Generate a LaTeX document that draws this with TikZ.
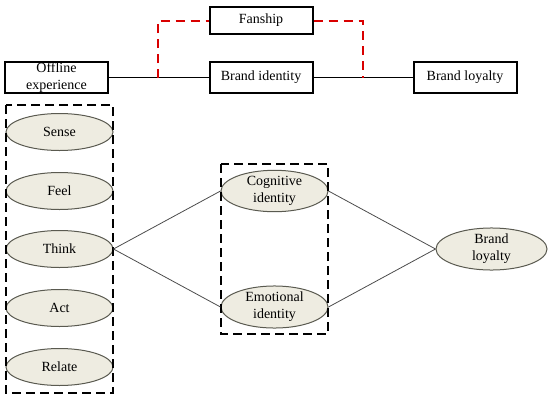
\documentclass[tikz,border=0pt]{standalone}
\usepackage{fontspec}
\setmainfont{Liberation Serif}
\definecolor{beige}{RGB}{238,236,225}
\definecolor{bordo}{RGB}{90,90,80}
\tikzset{
  box/.style={draw=black, line width=2pt, minimum width=103pt, minimum height=31pt,
    inner sep=1pt, align=center, font=\fontsize{14}{17}\selectfont},
  elli/.style={ellipse, draw=bordo, line width=1pt, fill=beige, minimum width=107pt,
    minimum height=37pt, inner sep=0pt, align=center, font=\fontsize{14}{17}\selectfont},
  gruppo/.style={draw=black, line width=2pt, dash pattern=on 9pt off 5pt},
  linea/.style={draw=black, line width=1.5pt},
  rossa/.style={draw=red!85!black, line width=2pt, dash pattern=on 9pt off 6pt},
  sottile/.style={draw=gray!60!black, line width=0.8pt}
}
\usetikzlibrary{shapes.geometric}
\begin{document}
\begin{tikzpicture}[x=1pt, y=-1pt]
  \useasboundingbox (0,0) rectangle (550,400);

  %–– Modello in alto ––
  \node[box] (off) at (56.5,77.5) {Offline\\experience};
  \node[box] (bid) at (261,77.5) {Brand identity};
  \node[box] (blo) at (465,77.5) {Brand loyalty};
  \node[box, minimum height=27pt] (fan) at (261,20.5) {Fanship};
  \coordinate (ms) at (158,78);
  \coordinate (md) at (363,78);

  \draw[linea] (off.east) -- (bid.west);
  \draw[linea] (bid.east) -- (blo.west);
  % moderazione
  \draw[rossa] (ms) |- (fan.west);
  \draw[rossa] (fan.east) -| (md);

  %–– Dimensioni dell'esperienza ––
  \node[elli] (sense)  at (59.5,132) {Sense};
  \node[elli] (feel)   at (59.5,191) {Feel};
  \node[elli] (think)  at (59.5,249) {Think};
  \node[elli] (act)    at (59.5,308) {Act};
  \node[elli] (relate) at (59.5,367) {Relate};
  \draw[gruppo] (6,105) rectangle (113,393);

  %–– Identità ––
  \node[elli] (cog) at (274.5,191) {Cognitive\\identity};
  \node[elli] (emo) at (274.5,307) {Emotional\\identity};
  \draw[gruppo] (221,164) rectangle (328,334);

  %–– Fedeltà ––
  \node[elli, minimum width=111pt, minimum height=38pt] (loy) at (491.5,249) {Brand\\loyalty};

  %–– Collegamenti ––
  \draw[sottile] (think.east) -- (cog.west);
  \draw[sottile] (think.east) -- (emo.west);
  \draw[sottile] (cog.east) -- (loy.west);
  \draw[sottile] (emo.east) -- (loy.west);
\end{tikzpicture}
\end{document}
